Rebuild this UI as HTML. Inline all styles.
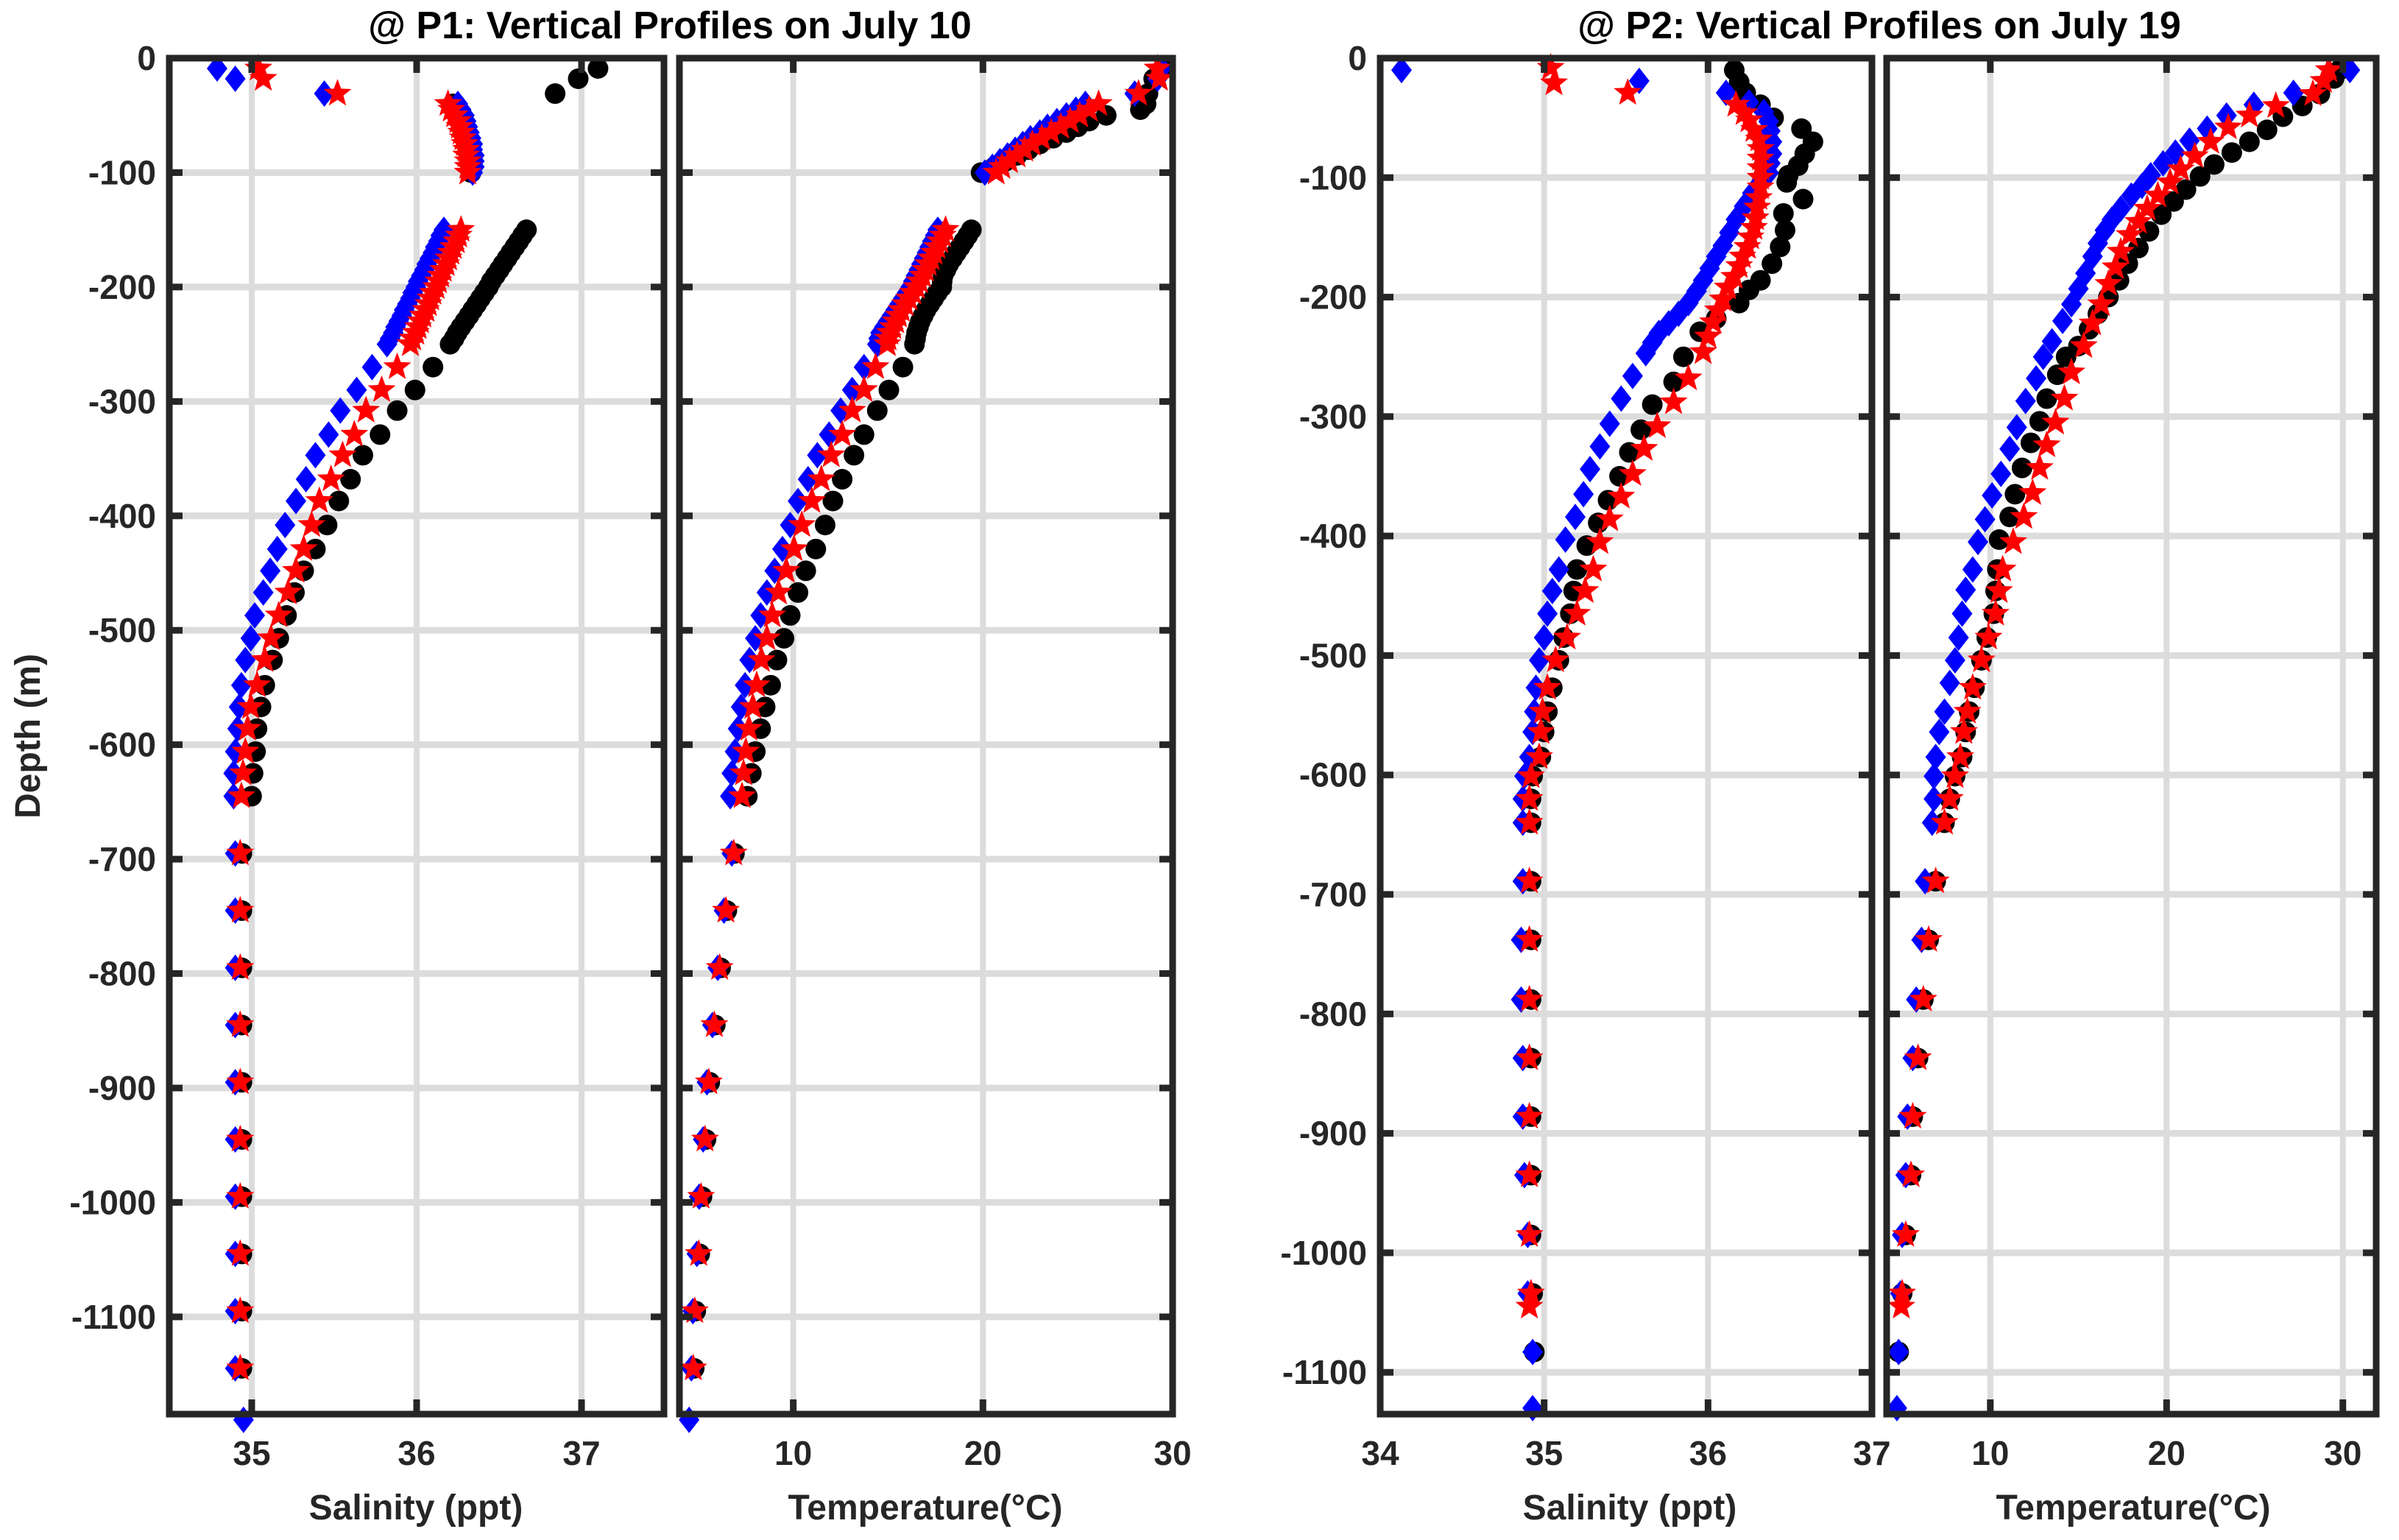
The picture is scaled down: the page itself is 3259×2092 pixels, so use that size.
<!DOCTYPE html>
<html><head><meta charset="utf-8"><style>
html,body{margin:0;padding:0;background:#fff;}
svg{display:block;font-family:"Liberation Sans",Arial,sans-serif;font-weight:bold;}
</style></head><body>
<svg id="fig" xmlns="http://www.w3.org/2000/svg" width="3259" height="2092" viewBox="0 0 3259 2092">
<rect x="0" y="0" width="3259" height="2092" fill="#fff"/>
<g id="grids"></g><g id="marks"></g><g id="axes"></g>
<text x="910" y="52" font-size="52" text-anchor="middle" fill="#000">@ P1: Vertical Profiles on July 10</text>
<text x="2553" y="52" font-size="52" text-anchor="middle" fill="#000">@ P2: Vertical Profiles on July 19</text>
<text x="0" y="0" font-size="48" text-anchor="middle" fill="#262626" transform="translate(54,1000) rotate(-90)">Depth (m)</text>
<text x="565" y="2064" font-size="48" text-anchor="middle" fill="#262626">Salinity (ppt)</text>
<text x="1257" y="2064" font-size="48" text-anchor="middle" fill="#262626">Temperature(°C)</text>
<text x="2214" y="2064" font-size="48" text-anchor="middle" fill="#262626">Salinity (ppt)</text>
<text x="2898" y="2064" font-size="48" text-anchor="middle" fill="#262626">Temperature(°C)</text>
</svg>
<script>
// ---------- P1 data (July 10) ----------
const p1Depth = [-9,-18,-31,-40,-45,-50,-55,-60,-65,-70,-75,-80,-85,-90,-95,-100,
 -150,-155,-160,-165,-170,-175,-180,-185,-190,-195,-200,-205,-210,-215,-220,-225,-230,-235,-240,-245,-250,
 -270,-290,-308,-329,-347,-368,-387,-408,-429,-448,-467,-487,-507,-526,-548,-567,-586,-606,-625,-645,
 -695,-745,-795,-845,-895,-945,-995,-1045,-1095,-1145];
const p1DepthBlue = [-9,-18,-31,-40,-45,-50,-55,-60,-65,-70,-75,-80,-85,-90,-95,-100,
 -150,-155,-160,-165,-170,-175,-180,-185,-190,-195,-200,-205,-210,-215,-220,-225,-230,-235,-240,-245,-250,
 -270,-290,-308,-329,-347,-368,-387,-408,-429,-448,-467,-487,-507,-526,-548,-567,-586,-606,-625,-645,
 -695,-745,-795,-845,-895,-945,-995,-1045,-1095,-1145,-1190];
const p1SalBlue = [34.79,34.9,35.44,36.25,36.27,36.29,36.3,36.31,36.32,36.33,36.34,36.34,36.35,36.35,36.35,36.34,
 36.165,36.146,36.132,36.113,36.099,36.08,36.061,36.047,36.028,36.009,35.995,35.976,35.962,35.943,35.924,35.91,35.891,35.872,35.858,35.839,35.82,
 35.73,35.636,35.537,35.466,35.386,35.329,35.268,35.202,35.155,35.112,35.07,35.018,34.994,34.961,34.937,34.923,34.914,34.9,34.89,34.89,
 34.9,34.9,34.9,34.9,34.9,34.9,34.9,34.9,34.9,34.9,34.95];
const p1SalRed = [35.04,35.07,35.52,36.19,36.21,36.23,36.25,36.26,36.27,36.28,36.29,36.3,36.3,36.31,36.31,36.31,
 36.269,36.255,36.241,36.222,36.208,36.194,36.179,36.161,36.146,36.132,36.118,36.099,36.085,36.071,36.057,36.038,36.024,36.009,35.995,35.976,35.962,
 35.882,35.788,35.693,35.622,35.551,35.481,35.41,35.363,35.315,35.268,35.221,35.164,35.117,35.079,35.032,34.994,34.975,34.961,34.947,34.937,
 34.93,34.93,34.93,34.93,34.93,34.93,34.93,34.93,34.93,34.93];
const p1SalBlack = [37.1,36.98,36.84,36.22,36.24,36.26,36.27,36.29,36.3,36.31,36.31,36.32,36.32,36.33,36.33,36.33,
 36.666,36.642,36.619,36.595,36.571,36.548,36.524,36.501,36.477,36.453,36.435,36.411,36.387,36.364,36.34,36.317,36.293,36.269,36.246,36.227,36.203,
 36.099,35.99,35.882,35.778,35.674,35.599,35.528,35.457,35.386,35.315,35.259,35.211,35.164,35.126,35.079,35.056,35.032,35.023,35.008,34.999,
 34.94,34.94,34.94,34.94,34.94,34.94,34.94,34.94,34.94,34.94];
const p1TempBlue = [29.4,29.2,28.0,25.4,24.9,24.4,23.9,23.4,23.0,22.5,22.1,21.7,21.3,20.9,20.5,20.1,
 17.62,17.48,17.33,17.19,17.05,16.9,16.76,16.62,16.47,16.33,16.19,16.0,15.8,15.6,15.4,15.2,15.0,14.8,14.6,14.5,14.43,
 13.73,13.11,12.5,11.89,11.27,10.78,10.25,9.84,9.43,9.02,8.61,8.28,8.0,7.7,7.46,7.25,7.09,6.93,6.76,6.68,
 6.76,6.35,6.02,5.74,5.45,5.25,5.04,4.92,4.71,4.63,4.51];
const p1TempRed = [29.2,29.3,28.2,26.1,25.6,25.1,24.6,24.1,23.6,23.1,22.6,22.2,21.8,21.4,21.0,20.7,
 18.03,17.88,17.73,17.58,17.42,17.27,17.12,16.97,16.82,16.66,16.5,16.3,16.1,15.9,15.7,15.55,15.4,15.25,15.1,15.0,14.96,
 14.34,13.73,13.11,12.58,12.0,11.48,10.98,10.45,10.04,9.63,9.22,8.89,8.61,8.32,8.07,7.87,7.66,7.5,7.38,7.3,
 6.86,6.45,6.12,5.84,5.55,5.35,5.14,5.02,4.81,4.73];
const p1TempBlack = [29.5,29.0,28.7,28.6,28.3,26.5,25.6,25.0,24.4,23.7,23.0,22.4,21.8,21.2,20.6,19.9,
 19.39,19.2,19.0,18.8,18.6,18.4,18.2,18.05,17.9,17.85,17.83,17.6,17.4,17.2,17.0,16.85,16.7,16.6,16.5,16.45,16.39,
 15.78,15.04,14.43,13.73,13.2,12.58,12.09,11.68,11.19,10.66,10.25,9.84,9.51,9.14,8.81,8.52,8.28,8.0,7.79,7.58,
 6.9,6.5,6.17,5.89,5.6,5.4,5.19,5.07,4.86,4.78];

// ---------- P2 data (July 19) ----------
const p2SalBlueDepth = [-10,-19,-29,-37,-45,-53,-61,-70,-80,-88,-96,-104,-113,-124,-135,-146,-157,-166,-176,-186,-195,-205,-214,-222,-230,-238,-247,-266,-285,-306,-325,-344,-365,-384,-403,-428,-446,-465,-485,-504,-527,-547,-564,-585,-601,-620,-640,-689,-738,-788,-837,-886,-935,-985,-1034,-1083,-1130];
const p2SalBlue = [34.13,35.58,36.11,36.25,36.34,36.37,36.38,36.39,36.39,36.38,36.37,36.32,36.27,36.22,36.17,36.13,36.09,36.05,36.01,35.97,35.93,35.88,35.82,35.76,35.70,35.66,35.62,35.54,35.47,35.40,35.34,35.28,35.24,35.19,35.13,35.09,35.05,35.02,35.0,34.97,34.95,34.94,34.93,34.91,34.88,34.87,34.87,34.87,34.86,34.86,34.87,34.87,34.88,34.9,34.9,34.93,34.93];
const p2SalRedDepth = [-8,-21,-29,-39,-46,-52,-60,-68,-76,-84,-92,-100,-108,-117,-125,-134,-142,-150,-158,-166,-174,-183,-192,-202,-211,-221,-233,-246,-268,-288,-308,-327,-348,-367,-386,-405,-428,-446,-465,-485,-504,-527,-547,-564,-585,-601,-620,-640,-689,-738,-788,-837,-886,-935,-985,-1034,-1045];
const p2SalRed = [35.04,35.06,35.51,36.17,36.22,36.25,36.28,36.31,36.32,36.32,36.32,36.32,36.32,36.31,36.30,36.29,36.28,36.26,36.24,36.21,36.19,36.16,36.12,36.09,36.06,36.03,36.0,35.97,35.88,35.79,35.69,35.61,35.54,35.47,35.40,35.34,35.3,35.25,35.2,35.14,35.07,35.02,34.99,34.98,34.97,34.92,34.91,34.91,34.91,34.91,34.91,34.91,34.91,34.91,34.91,34.92,34.91];
const p2SalBlackDepth = [-10,-20,-29,-39,-50,-59,-70,-80,-90,-98,-104,-118,-130,-144,-158,-172,-186,-194,-205,-218,-229,-250,-271,-290,-311,-330,-350,-370,-389,-408,-428,-446,-465,-485,-504,-527,-547,-564,-585,-601,-620,-640,-689,-738,-788,-837,-886,-935,-985,-1034,-1083];
const p2SalBlack = [36.16,36.19,36.23,36.32,36.40,36.57,36.64,36.59,36.55,36.49,36.48,36.58,36.46,36.47,36.44,36.39,36.32,36.25,36.19,36.05,35.95,35.85,35.79,35.66,35.59,35.52,35.46,35.39,35.33,35.26,35.2,35.18,35.16,35.12,35.09,35.05,35.02,35.0,34.98,34.93,34.92,34.92,34.92,34.92,34.92,34.92,34.92,34.92,34.92,34.93,34.94];
const p2TempBlueDepth = [-10,-29,-39,-48,-59,-69,-79,-88,-98,-107,-115,-126,-135,-144,-155,-166,-180,-193,-206,-220,-237,-250,-268,-287,-309,-327,-348,-366,-386,-405,-428,-445,-465,-485,-504,-523,-547,-564,-585,-601,-620,-640,-689,-738,-788,-837,-886,-935,-985,-1034,-1083,-1130];
const p2TempBlue = [30.4,27.2,24.95,23.4,22.3,21.3,20.5,19.8,19.1,18.6,18.0,17.4,16.9,16.5,16.1,15.8,15.4,15.0,14.6,14.1,13.5,13.0,12.6,12.0,11.5,11.1,10.6,10.1,9.7,9.3,9.0,8.6,8.4,8.2,8.0,7.7,7.4,7.1,6.9,6.8,6.8,6.7,6.3,6.1,5.8,5.6,5.3,5.2,5.0,4.9,4.8,4.7];
const p2TempRedDepth = [-10,-19,-30,-40,-48,-58,-70,-82,-93,-104,-115,-126,-137,-148,-162,-175,-189,-206,-222,-241,-263,-285,-305,-324,-343,-364,-384,-405,-428,-446,-465,-485,-504,-527,-547,-564,-585,-601,-620,-640,-689,-738,-788,-837,-886,-935,-985,-1034,-1045];
const p2TempRed = [29.2,28.9,28.3,26.2,24.7,23.5,22.5,21.6,20.8,20.2,19.5,18.9,18.4,17.9,17.4,17.1,16.7,16.3,15.8,15.3,14.6,14.2,13.7,13.2,12.8,12.4,11.9,11.3,10.7,10.5,10.3,9.9,9.5,9.0,8.7,8.5,8.3,8.0,7.7,7.4,6.9,6.5,6.2,5.9,5.6,5.5,5.2,5.0,4.95];
const p2TempBlackDepth = [-10,-17,-30,-40,-49,-60,-70,-79,-89,-99,-110,-120,-131,-145,-159,-172,-186,-200,-214,-227,-241,-250,-265,-285,-304,-322,-343,-365,-384,-403,-428,-446,-465,-485,-504,-527,-547,-564,-585,-601,-620,-640,-689,-738,-788,-837,-886,-935,-985,-1034,-1083];
const p2TempBlack = [29.8,29.5,28.7,27.7,26.6,25.7,24.7,23.7,22.7,21.9,21.1,20.4,19.7,19.0,18.4,17.8,17.3,16.7,16.1,15.6,15.0,14.3,13.8,13.2,12.8,12.3,11.8,11.4,11.1,10.5,10.4,10.3,10.2,9.8,9.5,9.1,8.8,8.6,8.4,8.0,7.7,7.4,6.9,6.5,6.2,5.9,5.6,5.5,5.2,5.0,4.8];

// ---------- ticks ----------
const yTickValues = [0,-100,-200,-300,-400,-500,-600,-700,-800,-900,-1000,-1100];
const salTicksP1 = [35,36,37];
const salTicksP2 = [34,35,36,37];
const tempTicks = [10,20,30];

const NS = "http://www.w3.org/2000/svg";
function mk(tag, attrs, parent){const e=document.createElementNS(NS,tag);for(const k in attrs)e.setAttribute(k,attrs[k]);parent.appendChild(e);return e;}
const gGrid=document.getElementById('grids'), gMarks=document.getElementById('marks'), gAxes=document.getElementById('axes');

function linScale(d0,d1,r0,r1){return v=>r0+(v-d0)*(r1-r0)/(d1-d0);}

const panels = [
 {id:'p1-salinity', x0:230,x1:902,y0:79,y1:1921, xd:[34.5,37.5], yd:[0,-1185], xt:salTicksP1, ylab:true,
  series:[['black',p1Depth,p1SalBlack],['blue',p1DepthBlue,p1SalBlue],['red',p1Depth,p1SalRed]]},
 {id:'p1-temperature', x0:923,x1:1593,y0:79,y1:1921, xd:[4,30], yd:[0,-1185], xt:tempTicks, ylab:false,
  series:[['black',p1Depth,p1TempBlack],['blue',p1DepthBlue,p1TempBlue],['red',p1Depth,p1TempRed]]},
 {id:'p2-salinity', x0:1875,x1:2543,y0:79,y1:1921, xd:[34,37], yd:[0,-1135], xt:salTicksP2, ylab:true,
  series:[['black',p2SalBlackDepth,p2SalBlack],['blue',p2SalBlueDepth,p2SalBlue],['red',p2SalRedDepth,p2SalRed]]},
 {id:'p2-temperature', x0:2563,x1:3228,y0:79,y1:1921, xd:[4.12,31.89], yd:[0,-1135], xt:tempTicks, ylab:false,
  series:[['black',p2TempBlackDepth,p2TempBlack],['blue',p2TempBlueDepth,p2TempBlue],['red',p2TempRedDepth,p2TempRed]]}
];

function starPath(cx,cy,R){const r=R*0.42;let p='';for(let i=0;i<10;i++){const a=-Math.PI/2+i*Math.PI/5;const rr=i%2?r:R;p+=(i?'L':'M')+(cx+rr*Math.cos(a)).toFixed(1)+' '+(cy+rr*Math.sin(a)).toFixed(1);}return p+'Z';}

panels.forEach(P=>{
  const sx=linScale(P.xd[0],P.xd[1],P.x0,P.x1), sy=linScale(P.yd[0],P.yd[1],P.y0,P.y1);
  yTickValues.forEach(v=>{const y=sy(v); if(y<=P.y0+2||y>=P.y1-2) return;
    const l=mk('line',{x1:P.x0,x2:P.x1,y1:y,y2:y,stroke:'#dcdcdc','stroke-width':9},gGrid);
    
    });
  P.xt.forEach(v=>{const x=sx(v); if(x<=P.x0+4||x>=P.x1-4) return;
    const l=mk('line',{x1:x,x2:x,y1:P.y0,y2:P.y1,stroke:'#dcdcdc','stroke-width':8},gGrid);
    
    });
  P.series.forEach(([col,dep,val])=>{
    dep.forEach((d,i)=>{const x=sx(val[i]), y=sy(d); let m;
      if(col==='black'){m=mk('circle',{cx:x,cy:y,r:14,fill:'#000'},gMarks);
        }
      else if(col==='blue'){m=mk('path',{d:`M${x} ${y-18}L${x+14} ${y}L${x} ${y+18}L${x-14} ${y}Z`,fill:'#0000ff'},gMarks);
        }
      else {m=mk('path',{d:starPath(x,y,20),fill:'#ff0000'},gMarks);
        }
      });
  });
  const box=mk('rect',{x:P.x0,y:P.y0,width:P.x1-P.x0,height:P.y1-P.y0,fill:'none',stroke:'#262626','stroke-width':9},gAxes);
  
  
  yTickValues.forEach(v=>{const y=sy(v);
    mk('line',{x1:P.x0,x2:P.x0+18,y1:y,y2:y,stroke:'#262626','stroke-width':9},gAxes);
    mk('line',{x1:P.x1-18,x2:P.x1,y1:y,y2:y,stroke:'#262626','stroke-width':9},gAxes);
    if(P.ylab){const t=mk('text',{x:P.x0-18,y:y+16,'font-size':46,'text-anchor':'end',fill:'#262626'},gAxes);t.textContent=v;
      
      }
  });
  P.xt.forEach(v=>{const x=sx(v);
    mk('line',{x1:x,x2:x,y1:P.y0,y2:P.y0+20,stroke:'#262626','stroke-width':9},gAxes);
    mk('line',{x1:x,x2:x,y1:P.y1-20,y2:P.y1,stroke:'#262626','stroke-width':9},gAxes);
    const t=mk('text',{x:x,y:1990,'font-size':46,'text-anchor':'middle',fill:'#262626'},gAxes);t.textContent=v;
    
    
  });
});
</script>
</body></html>
